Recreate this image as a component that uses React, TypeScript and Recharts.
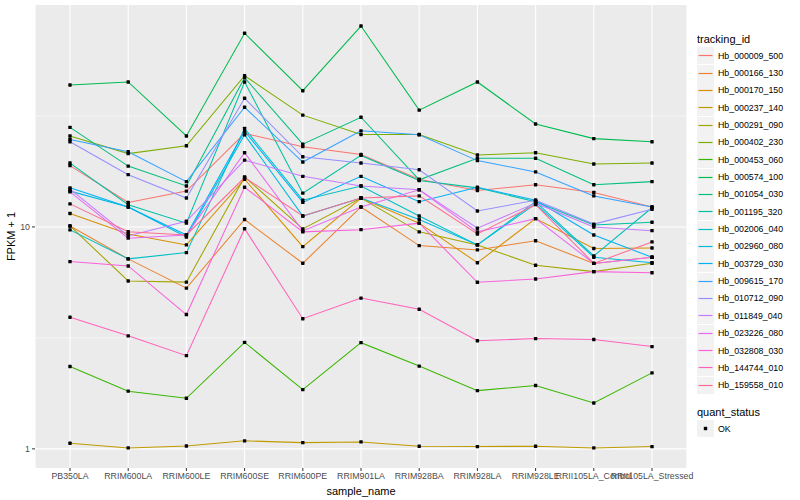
import { LineChart, Line, XAxis, YAxis, CartesianGrid, ReferenceLine } from 'recharts';

const samples = [
  'PB350LA', 'RRIM600LA', 'RRIM600LE', 'RRIM600SE', 'RRIM600PE', 'RRIM901LA',
  'RRIM928BA', 'RRIM928LA', 'RRIM928LE', 'RRII105LA_Control', 'RRII105LA_Stressed',
];

const trackingIds = [
  'Hb_000009_500', 'Hb_000166_130', 'Hb_000170_150', 'Hb_000237_140', 'Hb_000291_090',
  'Hb_000402_230', 'Hb_000453_060', 'Hb_000574_100', 'Hb_001054_030', 'Hb_001195_320',
  'Hb_002006_040', 'Hb_002960_080', 'Hb_003729_030', 'Hb_009615_170', 'Hb_010712_090',
  'Hb_011849_040', 'Hb_023226_080', 'Hb_032808_030', 'Hb_144744_010', 'Hb_159558_010',
];

// ggplot hue palette, 20 levels
const colors = [
  '#F8766D', '#EA8331', '#D89000', '#C09B00', '#A3A500', '#7CAE00', '#39B600', '#00BB4E',
  '#00BF7D', '#00C1A3', '#00BFC4', '#00BAE0', '#00B0F6', '#35A2FF', '#9590FF', '#C77CFF',
  '#E76BF3', '#FA62DB', '#FF62BC', '#FF6C91',
];

// FPKM + 1 per sample
const hb000009 = [18.9, 12.9, 14.5, 26.4, 23.0, 21.2, 16.4, 14.6, 15.5, 14.3, 12.3];
const hb000166 = [10.1, 7.18, 5.3, 10.8, 6.86, 12.3, 8.24, 7.88, 8.67, 6.85, 7.3];
const hb000170 = [11.5, 9.3, 8.3, 16.4, 8.15, 13.5, 10.4, 6.9, 10.9, 8.0, 8.04];
const hb000237 = [1.06, 1.01, 1.03, 1.087, 1.067, 1.075, 1.028, 1.024, 1.028, 1.01, 1.024];
const hb000291 = [10.1, 5.71, 5.64, 16.8, 9.8, 13.5, 9.5, 8.3, 6.72, 6.29, 6.86];
const hb000402 = [25.7, 21.4, 23.2, 48.0, 31.9, 26.1, 26.1, 21.1, 21.6, 19.2, 19.4];
const hb000453 = [2.35, 1.82, 1.69, 3.02, 1.85, 3.01, 2.36, 1.83, 1.93, 1.61, 2.2];
const hb000574 = [43.6, 45.0, 25.7, 74.6, 41.1, 80.4, 33.6, 45.0, 29.1, 25.0, 24.2];
const hb001054 = [28.1, 18.8, 15.3, 47.0, 23.6, 31.2, 16.3, 20.4, 20.4, 15.5, 16.0];
const hb001195 = [19.4, 12.6, 10.4, 45.0, 14.2, 21.0, 16.2, 15.0, 13.0, 10.2, 10.5];
const hb002006 = [9.7, 7.18, 7.66, 27.8, 13.2, 15.3, 11.2, 8.3, 13.0, 7.4, 12.2];
const hb002960 = [14.5, 12.3, 9.0, 26.0, 11.2, 13.5, 10.8, 8.3, 12.7, 7.3, 6.9];
const hb003729 = [15.0, 12.3, 9.2, 27.0, 12.9, 16.9, 13.0, 15.1, 13.2, 9.2, 7.3];
const hb009615 = [24.8, 21.8, 16.0, 34.6, 19.6, 27.1, 26.0, 19.9, 17.7, 13.8, 12.3];
const hb010712 = [24.2, 17.2, 13.5, 38.0, 20.7, 19.4, 18.1, 11.8, 13.2, 10.3, 12.0];
const hb011849 = [14.8, 9.1, 10.6, 20.0, 16.9, 15.3, 14.7, 9.87, 12.8, 10.0, 9.62];
const hb023226 = [14.4, 8.9, 9.2, 21.6, 9.6, 12.3, 14.7, 9.5, 10.9, 6.85, 7.3];
const hb032808 = [6.98, 6.67, 4.03, 15.1, 9.5, 9.72, 10.4, 5.63, 5.83, 6.29, 6.22];
const hb144744 = [3.92, 3.23, 2.63, 9.82, 3.86, 4.78, 4.26, 3.07, 3.14, 3.11, 2.89];
const hb159558 = [12.7, 9.52, 9.2, 16.7, 11.2, 13.5, 13.8, 9.3, 12.6, 6.85, 8.56];

const seriesValues = [
  hb000009, hb000166, hb000170, hb000237, hb000291, hb000402, hb000453, hb000574, hb001054, hb001195,
  hb002006, hb002960, hb003729, hb009615, hb010712, hb011849, hb023226, hb032808, hb144744, hb159558,
];

const yTicks = [1, 10];
const minorBreaks = [3.1623, 31.623];

const data = samples.map((sample, i) => {
  const row: Record<string, string | number> = { sample };
  trackingIds.forEach((id, j) => {
    row[id] = seriesValues[j][i];
  });
  return row;
});

const FONT = '"Liberation Sans", Arial, Helvetica, sans-serif';

const SquareDot = (props: any) => {
  const { cx, cy } = props;
  if (cx == null || cy == null) return null;
  return <rect x={cx - 1.7} y={cy - 1.7} width={3.4} height={3.4} rx={0.6} fill="#000" />;
};

const LegendBox = () => (
  <div style={{ position: 'absolute', left: 697, top: 31, width: 100, fontFamily: FONT, color: '#000' }}>
    <div style={{ fontSize: 11, height: 16, lineHeight: '16px' }}>tracking_id</div>
    {trackingIds.map((id, i) => (
      <div key={id} style={{ display: 'flex', alignItems: 'center', height: 17.35 }}>
        <svg width={17} height={17} style={{ display: 'block' }}>
          <rect x={0} y={0} width={17} height={17} fill="#F2F2F2" />
          <line x1={1.5} y1={8.5} x2={15.5} y2={8.5} stroke={colors[i]} strokeWidth={1.2} />
        </svg>
        <span style={{ fontSize: 8.8, marginLeft: 4 }}>{id}</span>
      </div>
    ))}
    <div style={{ fontSize: 11, height: 16, lineHeight: '16px', marginTop: 10 }}>quant_status</div>
    <div style={{ display: 'flex', alignItems: 'center', height: 17.35 }}>
      <svg width={17} height={17} style={{ display: 'block' }}>
        <rect x={0} y={0} width={17} height={17} fill="#F2F2F2" />
        <rect x={6.8} y={6.8} width={3.4} height={3.4} fill="#000" />
      </svg>
      <span style={{ fontSize: 8.8, marginLeft: 4 }}>OK</span>
    </div>
  </div>
);

export default function App() {
  return (
    <div style={{ position: 'absolute', left: 0, top: 0, width: 800, height: 500, background: '#fff' }}>
      <LineChart width={800} height={500} data={data} margin={{ top: 5, right: 113, bottom: 0, left: 5 }}>
        <CartesianGrid fill="#EBEBEB" stroke="#FFFFFF" strokeWidth={1.1} horizontalValues={yTicks} />
        {minorBreaks.map((v) => (
          <ReferenceLine key={v} y={v} stroke="#FFFFFF" strokeWidth={0.55} />
        ))}
        <XAxis
          dataKey="sample"
          type="category"
          padding={{ left: 35, right: 35 }}
          interval={0}
          height={32}
          tickSize={3}
          tickMargin={2}
          axisLine={false}
          tickLine={{ stroke: '#333333' }}
          tick={{ fontSize: 8.8, fill: '#4D4D4D', fontFamily: FONT }}
          label={{ value: 'sample_name', position: 'insideBottom', offset: 5, fontSize: 11, fill: '#000', fontFamily: FONT }}
        />
        <YAxis
          type="number"
          scale="log"
          domain={[0.82, 100]}
          allowDataOverflow
          ticks={yTicks}
          tickFormatter={(v) => String(v)}
          width={30}
          tickSize={3}
          tickMargin={2}
          axisLine={false}
          tickLine={{ stroke: '#333333' }}
          tick={{ fontSize: 8.8, fill: '#4D4D4D', fontFamily: FONT }}
          label={{ value: 'FPKM + 1', angle: -90, position: 'insideLeft', offset: 6, fontSize: 11, fill: '#000', fontFamily: FONT, style: { textAnchor: 'middle' } }}
        />
        {trackingIds.map((id, i) => (
          <Line
            key={id}
            dataKey={id}
            stroke={colors[i]}
            strokeWidth={1.05}
            dot={false}
            activeDot={false}
            isAnimationActive={false}
            legendType="none"
          />
        ))}
        {trackingIds.map((id) => (
          <Line
            key={id + '-pts'}
            dataKey={id}
            stroke="none"
            dot={<SquareDot />}
            activeDot={false}
            isAnimationActive={false}
            legendType="none"
          />
        ))}
      </LineChart>
      <LegendBox />
    </div>
  );
}
